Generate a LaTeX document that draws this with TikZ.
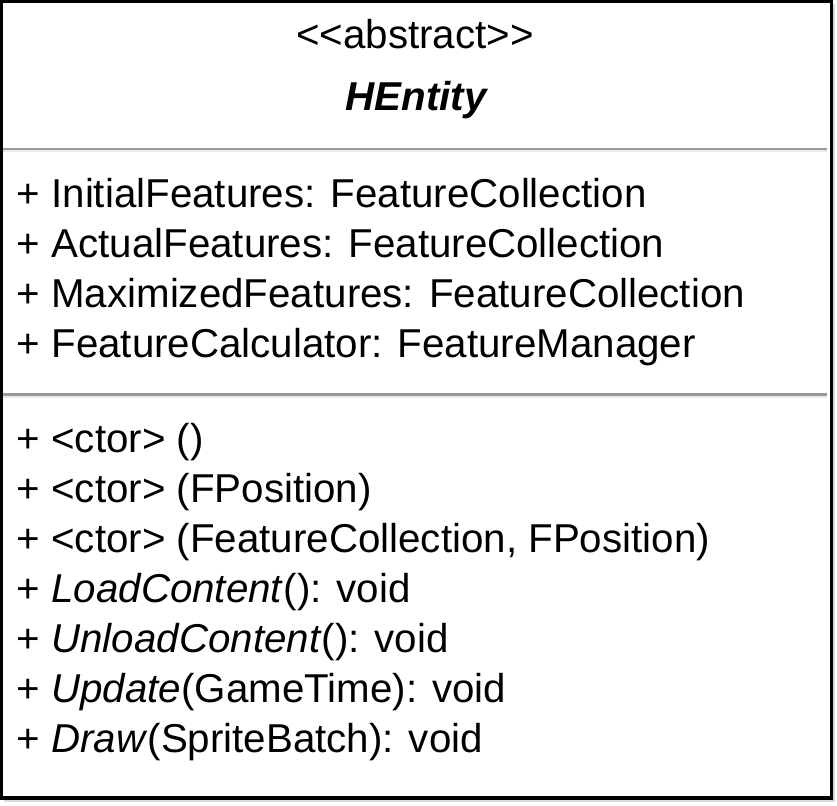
\documentclass[tikz,border=0pt]{standalone}
\usepackage{fontspec}
\setmainfont{Liberation Sans}
\begin{document}
\begin{tikzpicture}[x=1pt,y=-1pt,
  member/.style={anchor=base west,inner sep=0pt,font=\fontsize{40.3}{48}\selectfont},
  title/.style={anchor=base,inner sep=0pt,font=\fontsize{40.3}{48}\selectfont},
  divider/.style={draw=black!40,line width=2.5pt},
  dividershade/.style={draw=black!8,line width=2pt},
  frame/.style={draw=black,line width=3.2pt},
  frameshade/.style={draw=black!15,line width=1.5pt}]
\useasboundingbox (0,0) rectangle (837,805);
\fill[white] (0,0) rectangle (837,805);
% class frame with its soft outer edge
\draw[frameshade] (834,4) -- (834,801) -- (4,801);
\draw[frame] (1.6,1.6) rectangle (831.4,798);
% compartment dividers
\draw[dividershade] (3,151.5) -- (827,151.5);
\draw[divider] (3,148.8) -- (827,148.8);
\draw[dividershade] (3,397) -- (827,397);
\draw[divider] (3,394.3) -- (827,394.3);
% header
\node[title] (stereo) at (415,49) {<{}<abstract>{}>};
\node[title,font=\fontsize{40.3}{48}\selectfont\bfseries\itshape] (name) at (416,111) {HEntity};
% attributes
\node[member] (a1) at (16.5,207) {+ InitialFeatures: FeatureCollection};
\node[member] (a2) at (16.5,257) {+ ActualFeatures: FeatureCollection};
\node[member] (a3) at (16.5,307) {+ MaximizedFeatures: FeatureCollection};
\node[member] (a4) at (16.5,357) {+ FeatureCalculator: FeatureManager};
% operations
\node[member] (m1) at (16.5,452) {+ <ctor> ()};
\node[member] (m2) at (16.5,502) {+ <ctor> (FPosition)};
\node[member] (m3) at (16.5,552) {+ <ctor> (FeatureCollection, FPosition)};
\node[member] (m4) at (16.5,602) {+ \textit{LoadContent}(): void};
\node[member] (m5) at (16.5,652) {+ \textit{UnloadContent}(): void};
\node[member] (m6) at (16.5,702) {+ \textit{Update}(GameTime): void};
\node[member] (m7) at (16.5,752) {+ \textit{Draw}(SpriteBatch): void};
\end{tikzpicture}
\end{document}
